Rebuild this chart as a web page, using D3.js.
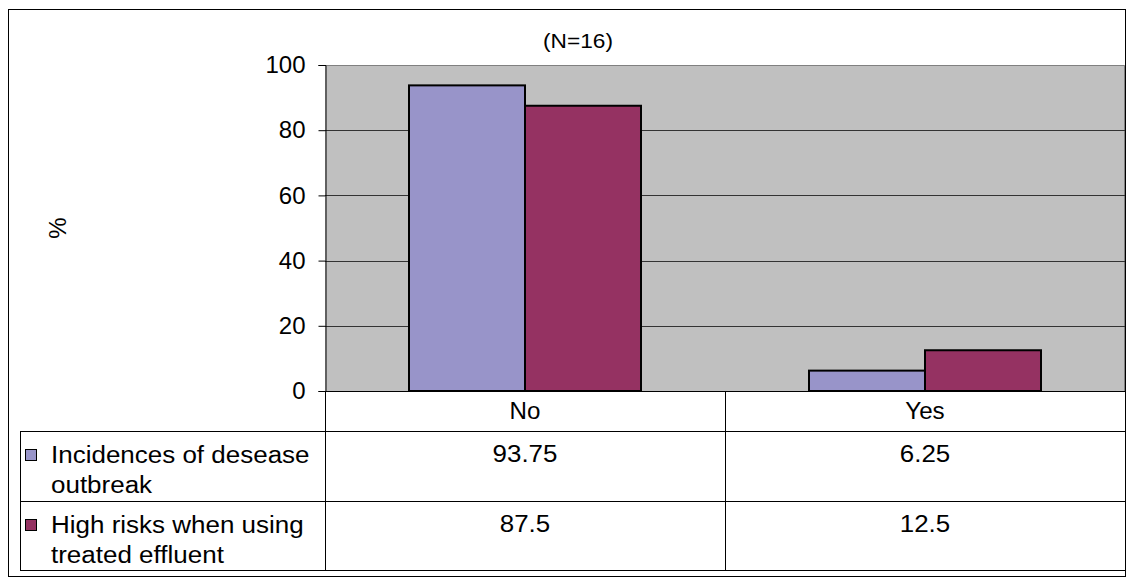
<!DOCTYPE html>
<html>
<head>
<meta charset="utf-8">
<script src="https://cdn.jsdelivr.net/npm/d3@7"></script>
<style>
  html, body { margin: 0; padding: 0; background: #fff; }
  svg text { font-family: "Liberation Sans", Arial, sans-serif; fill: #000; }
</style>
</head>
<body>
<svg id="chart" width="1133" height="580"></svg>
<script>
// Survey answers, percent of respondents (N=16)
const categories = ["No", "Yes"];
const seriesNames = ["Incidences of desease outbreak", "High risks when using treated effluent"];
const legendLines = [["Incidences of desease", "outbreak"], ["High risks when using", "treated effluent"]];
const incidences = [93.75, 6.25];
const highRisks = [87.5, 12.5];
const tableLabels = [["93.75", "6.25"], ["87.5", "12.5"]];
const yTicks = [0, 20, 40, 60, 80, 100];
const colors = ["#9894c9", "#953262"];

const series = [incidences, highRisks];

const svg = d3.select("#chart");
const plot = { left: 325, right: 1125, top: 65, bottom: 391 };
const tableLeft = 20;
const rowLines = [391, 431, 501, 570];

// places a text at (x, y) with a slight horizontal widening of the glyphs
function wideText(sel, x, y, str, size, sx, anchor) {
  return sel.append("text")
    .attr("transform", `translate(${x},${y}) scale(${sx},1)`)
    .attr("text-anchor", anchor || "start")
    .attr("font-size", size)
    .text(str);
}

// outer frame
svg.append("rect")
  .attr("x", 8.5).attr("y", 9.5).attr("width", 1117).attr("height", 567)
  .attr("fill", "#fff").attr("stroke", "#000").attr("stroke-width", 1);

const x = d3.scaleBand().domain(categories).range([plot.left, plot.right]).paddingInner(0).paddingOuter(0);
const barW = 116;
const xs = d3.scaleBand().domain(d3.range(series.length)).range([0, barW * 2]);
const y = d3.scaleLinear().domain([0, 100]).range([plot.bottom, plot.top]);

// plot area
svg.append("rect")
  .attr("x", plot.left).attr("y", plot.top)
  .attr("width", plot.right - plot.left).attr("height", plot.bottom - plot.top)
  .attr("fill", "#c0c0c0");
svg.append("path")
  .attr("d", `M${plot.left},${plot.top + 0.5}H${plot.right - 0.5}V${plot.bottom}`)
  .attr("fill", "none").attr("stroke", "#808080").attr("stroke-width", 1);

// gridlines
svg.append("g").selectAll("line")
  .data(yTicks.filter(t => t > 0 && t < 100))
  .join("line")
  .attr("x1", plot.left).attr("x2", plot.right)
  .attr("y1", d => Math.round(y(d)) + 0.5).attr("y2", d => Math.round(y(d)) + 0.5)
  .attr("stroke", "#333").attr("stroke-width", 1);

// bars
const groups = svg.append("g").selectAll("g")
  .data(series)
  .join("g")
  .attr("fill", (d, i) => colors[i]);
groups.each(function (vals, si) {
  d3.select(this).selectAll("rect")
    .data(vals)
    .join("rect")
    .attr("x", (d, ci) => x(categories[ci]) + x.bandwidth() / 2 - barW + xs(si))
    .attr("width", xs.bandwidth())
    .attr("y", d => y(d))
    .attr("height", d => y(0) - y(d))
    .attr("stroke", "#000").attr("stroke-width", 2);
});

// y axis
const yAxis = d3.axisLeft(y).tickValues(yTicks).tickSize(7).tickPadding(13).tickFormat(d3.format("d"));
const ya = svg.append("g").attr("transform", `translate(${plot.left + 0.5},0)`).call(yAxis);
ya.select(".domain").attr("stroke", "#000");
ya.selectAll(".tick line").attr("stroke", "#000");
ya.selectAll(".tick text")
  .attr("font-size", 24)
  .attr("font-family", "Liberation Sans, Arial, sans-serif")
  .attr("fill", "#000");

// axis title
svg.append("text")
  .attr("transform", "translate(66,228) rotate(-90)")
  .attr("text-anchor", "middle")
  .attr("font-size", 24)
  .text("%");

// chart title
wideText(svg, 578, 48, "(N=16)", 21, 1.08, "middle");

// data table grid
const tbl = svg.append("g").attr("stroke", "#000").attr("stroke-width", 1).attr("fill", "none");
tbl.append("line").attr("x1", plot.left).attr("x2", plot.right).attr("y1", rowLines[0] + 0.5).attr("y2", rowLines[0] + 0.5);
rowLines.slice(1).forEach(ry => {
  tbl.append("line").attr("x1", tableLeft).attr("x2", plot.right).attr("y1", ry + 0.5).attr("y2", ry + 0.5);
});
tbl.append("line").attr("x1", tableLeft + 0.5).attr("x2", tableLeft + 0.5).attr("y1", rowLines[1]).attr("y2", rowLines[3]);
tbl.append("line").attr("x1", plot.left + 0.5).attr("x2", plot.left + 0.5).attr("y1", rowLines[0]).attr("y2", rowLines[3]);
categories.forEach(c => {
  const xr = Math.round(x(c) + x.bandwidth()) + 0.5;
  tbl.append("line").attr("x1", xr).attr("x2", xr).attr("y1", rowLines[0]).attr("y2", rowLines[3]);
});

// category header
categories.forEach(c => wideText(svg, x(c) + x.bandwidth() / 2, 419, c, 23, 1.05, "middle"));

// values
tableLabels.forEach((row, si) => {
  row.forEach((t, ci) => {
    wideText(svg, x(categories[ci]) + x.bandwidth() / 2, si === 0 ? 462 : 532, t, 24, 1.08, "middle");
  });
});

// legend keys and series names
legendLines.forEach((lines, si) => {
  const top = si === 0 ? 447 : 517;
  svg.append("rect")
    .attr("x", 25.5).attr("y", top + 2.5).attr("width", 11).attr("height", 11)
    .attr("fill", colors[si]).attr("stroke", "#000").attr("stroke-width", 1);
  lines.forEach((t, li) => {
    wideText(svg, 51, top + 16 + li * 30, t, 23, 1.13, "start");
  });
});
</script>
</body>
</html>
